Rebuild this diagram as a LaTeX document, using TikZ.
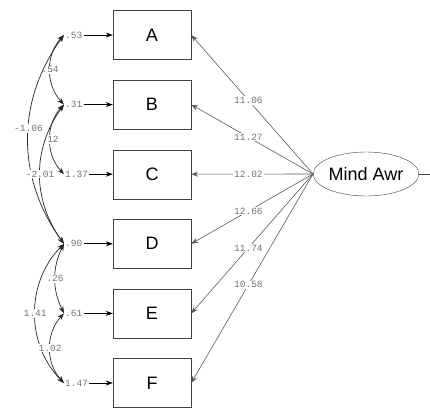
\documentclass[tikz,border=0pt]{standalone}
\usepackage{fontspec}
\setmainfont{Liberation Sans}
\setmonofont{Liberation Mono}
\usetikzlibrary{arrows.meta}
\usetikzlibrary{calc}
\usetikzlibrary{shapes.geometric}

\begin{document}
\begin{tikzpicture}[x=1pt,y=-1pt,>={Stealth[length=7pt,width=5pt]},
    ind/.style={draw=black!75,minimum width=78pt,minimum height=49pt,font=\fontsize{18}{18}\selectfont},
    num/.style={font=\ttfamily\fontsize{9.5}{10}\selectfont,text=black!55,inner sep=1pt,fill=white}]
  \useasboundingbox (0,0) rectangle (430,409);

  \foreach \n/\v [count=\i from 0] in {A/.53,B/.31,C/1.37,D/.90,E/.61,F/1.47}{
    \node[ind] (\n) at (152,35+69.6*\i) {\n};
    \node[num,anchor=west] (e\n) at (64,35+69.6*\i) {\v};
    \draw[->,line width=.8pt] (e\n) -- (\n);
  }

  \node[draw=black!75,ellipse,minimum width=92pt,minimum height=44pt,inner sep=0pt,
        font=\fontsize{18}{18}\selectfont] (M) at (366,174) {Mind Awr};
  \coordinate (out) at (430,174);
  \draw[black!75] (M.east) -- (out);

  \foreach \n/\l in {A/11.06,B/11.27,C/12.02,D/12.66,E/11.74,F/10.58}
    \draw[->,black!65,line width=.6pt] (M.west) -- node[num,pos=.53] {\l} (\n.east);

  % correlated errors
  \begin{scope}[<->,black!85,line width=.7pt]
    \draw (eA.west) to[bend right=43] node[num] {.54} (eB.west);
    \draw (eA.west) to[bend right=36] node[num,pos=.45] {-1.06} (eD.west);
    \draw (eB.west) to[bend right=43] node[num] {.12} (eC.west);
    \draw (eB.west) to[bend right=36] node[num] {-2.01} (eD.west);
    \draw (eD.west) to[bend right=26] node[num] {.26} (eE.west);
    \draw (eD.west) to[bend right=45] node[num] {1.41} (eF.west);
    \draw (eE.west) to[bend right=43] node[num] {1.02} (eF.west);
  \end{scope}
\end{tikzpicture}
\end{document}
